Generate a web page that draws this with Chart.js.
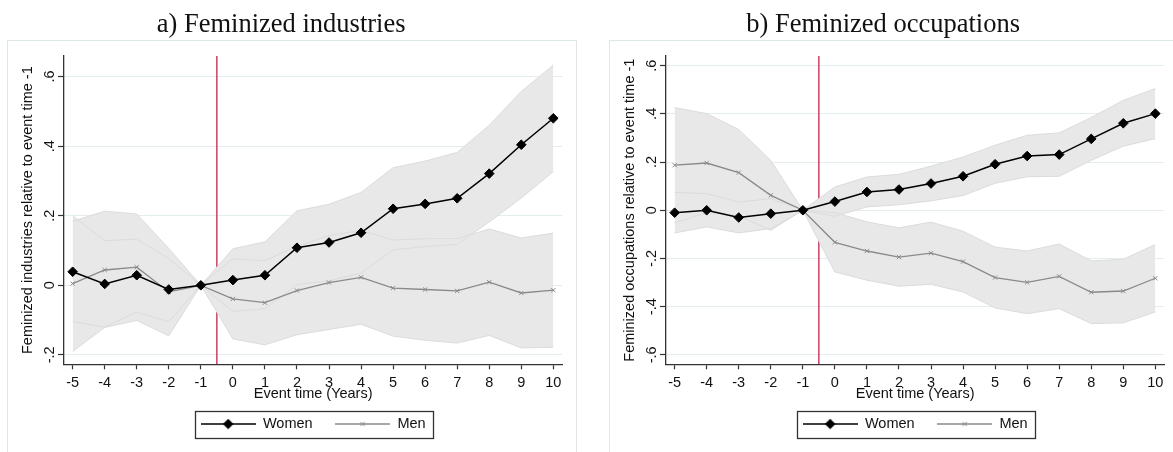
<!DOCTYPE html>
<html>
<head>
<meta charset="utf-8">
<script src="https://cdn.jsdelivr.net/npm/chart.js"></script>
<style>
  body { margin: 0; background: #fff; overflow: hidden; }
  canvas { position: absolute; top: 0; }
</style>
</head>
<body>
<canvas id="industries" width="584" height="452" style="left:0px"></canvas>
<canvas id="occupations" width="584" height="452" style="left:602px"></canvas>
<script>
// event time axis
var eventTime = [-5, -4, -3, -2, -1, 0, 1, 2, 3, 4, 5, 6, 7, 8, 9, 10];
var xTickLabels = ['-5', '-4', '-3', '-2', '-1', '0', '1', '2', '3', '4', '5', '6', '7', '8', '9', '10'];
var xRange = [-5.27, 10.28];
var eventLine = -0.5;
var legendNames = ['Women', 'Men'];

// a) feminized industries
var yTicksInd = [-0.2, 0, 0.2, 0.4, 0.6];
var yLabelsInd = ['-.2', '0', '.2', '.4', '.6'];
var yRangeInd = [-0.227, 0.659];
var womenInd   = [0.039, 0.004, 0.029, -0.012, 0, 0.015, 0.029, 0.108, 0.123, 0.151, 0.220, 0.234, 0.250, 0.321, 0.404, 0.480];
var womenIndHi = [0.200, 0.128, 0.133, 0.077, 0, 0.105, 0.125, 0.214, 0.233, 0.267, 0.338, 0.357, 0.382, 0.460, 0.557, 0.633];
var womenIndLo = [-0.104, -0.120, -0.077, -0.105, 0, -0.075, -0.067, 0.002, 0.013, 0.035, 0.102, 0.111, 0.118, 0.182, 0.251, 0.327];
var menInd     = [0.005, 0.044, 0.052, -0.019, 0, -0.039, -0.050, -0.015, 0.008, 0.023, -0.008, -0.012, -0.016, 0.009, -0.022, -0.014];
var menIndHi   = [0.184, 0.213, 0.205, 0.106, 0, 0.076, 0.071, 0.112, 0.143, 0.158, 0.130, 0.134, 0.134, 0.162, 0.136, 0.150];
var menIndLo   = [-0.190, -0.121, -0.101, -0.145, 0, -0.154, -0.171, -0.142, -0.127, -0.112, -0.146, -0.158, -0.166, -0.144, -0.180, -0.178];

// b) feminized occupations
var yTicksOcc = [-0.6, -0.4, -0.2, 0, 0.2, 0.4, 0.6];
var yLabelsOcc = ['-.6', '-.4', '-.2', '0', '.2', '.4', '.6'];
var yRangeOcc = [-0.639, 0.64];
var womenOcc   = [-0.010, 0.000, -0.030, -0.014, 0, 0.036, 0.076, 0.086, 0.111, 0.141, 0.191, 0.225, 0.231, 0.296, 0.361, 0.401];
var womenOccHi = [0.074, 0.069, 0.034, 0.048, 0, 0.097, 0.138, 0.149, 0.183, 0.221, 0.270, 0.311, 0.321, 0.385, 0.456, 0.505];
var womenOccLo = [-0.094, -0.069, -0.094, -0.076, 0, -0.025, 0.014, 0.023, 0.039, 0.061, 0.112, 0.139, 0.141, 0.207, 0.266, 0.297];
var menOcc     = [0.187, 0.196, 0.156, 0.062, 0, -0.133, -0.169, -0.194, -0.178, -0.213, -0.279, -0.299, -0.274, -0.340, -0.335, -0.282];
var menOccHi   = [0.426, 0.401, 0.335, 0.207, 0, -0.010, -0.048, -0.073, -0.049, -0.087, -0.153, -0.169, -0.140, -0.210, -0.203, -0.142];
var menOccLo   = [-0.052, -0.009, -0.023, -0.083, 0, -0.256, -0.290, -0.315, -0.307, -0.339, -0.405, -0.429, -0.408, -0.470, -0.467, -0.422];

var SANS = 'Liberation Sans';
var TEXT = '#111';
var AXIS = '#333';
var BAND = '#e8e8e8';
var BAND_EDGE = '#dcdcdc';
var WOMEN = '#000';
var MEN = '#8a8a8a';

function pts(values) {
    return values.map(function (v, i) { return {x: eventTime[i], y: v}; });
}

// little line + marker sample used as the legend symbol
function legendIcon(color, lineWidth, style, radius) {
    var c = document.createElement('canvas');
    c.width = 55;
    c.height = 12;
    var g = c.getContext('2d');
    g.strokeStyle = color;
    g.fillStyle = color;
    g.lineWidth = lineWidth;
    g.beginPath();
    g.moveTo(0, 6);
    g.lineTo(55, 6);
    g.stroke();
    g.lineWidth = 1;
    Chart.helpers.drawPoint(g, {pointStyle: style, radius: radius, rotation: 0, borderWidth: 1}, 27.5, 6);
    return c;
}
var legendIcons = [legendIcon(WOMEN, 1.5, 'rectRot', 4.8), legendIcon(MEN, 1.3, 'crossRot', 3)];

var framePlugin = {
    id: 'frame',
    beforeDraw: function (chart) {
        var ctx = chart.ctx;
        ctx.save();
        ctx.fillStyle = '#fff';
        ctx.fillRect(0, 0, chart.width, chart.height);
        ctx.strokeStyle = '#dde7ea';
        ctx.lineWidth = 1;
        ctx.strokeRect(7.5, 40.5, chart.width - 15, chart.height);
        ctx.restore();
    }
};

var legendBoxPlugin = {
    id: 'legendBox',
    afterDraw: function (chart) {
        var boxes = chart.legend.legendHitBoxes;
        if (!boxes || !boxes.length) return;
        var first = boxes[0], last = boxes[boxes.length - 1];
        var cy = first.top + first.height / 2;
        var ctx = chart.ctx;
        ctx.save();
        ctx.strokeStyle = AXIS;
        ctx.lineWidth = 1.3;
        ctx.strokeRect(Math.round(first.left - 6) + 0.5, Math.round(cy - 13.5) + 0.5,
            Math.round(last.left + last.width - first.left + 13), 27);
        ctx.restore();
    }
};

function makePanel(id, title, yTitle, yTicks, yLabels, yRange, s) {
    var ctx = document.getElementById(id);
    return new Chart(ctx, {
        type: 'line',
        plugins: [framePlugin, legendBoxPlugin],
        data: {
            datasets: [
                {
                    label: legendNames[0],
                    data: pts(s.women),
                    borderColor: WOMEN,
                    backgroundColor: WOMEN,
                    borderWidth: 1.5,
                    pointStyle: 'rectRot',
                    pointRadius: 4.8,
                    pointBorderWidth: 1,
                    pointBackgroundColor: WOMEN,
                    pointBorderColor: WOMEN,
                    fill: false,
                },
                {
                    label: legendNames[1],
                    data: pts(s.men),
                    borderColor: MEN,
                    backgroundColor: MEN,
                    borderWidth: 1.3,
                    pointStyle: 'crossRot',
                    pointRadius: 3,
                    pointBorderWidth: 1,
                    pointBorderColor: MEN,
                    fill: false,
                },
                // faint band edges drawn above both band fills
                {data: pts(s.womenHi), borderColor: BAND_EDGE, borderWidth: 1, pointRadius: 0, fill: false},
                {data: pts(s.womenLo), borderColor: BAND_EDGE, borderWidth: 1, pointRadius: 0, fill: false},
                {data: pts(s.menHi), borderColor: BAND_EDGE, borderWidth: 1, pointRadius: 0, fill: false},
                {data: pts(s.menLo), borderColor: BAND_EDGE, borderWidth: 1, pointRadius: 0, fill: false},
                // confidence bands
                {data: pts(s.womenHi), borderColor: 'rgba(0,0,0,0)', backgroundColor: BAND, pointRadius: 0, fill: '+1'},
                {data: pts(s.womenLo), borderColor: 'rgba(0,0,0,0)', pointRadius: 0, fill: false},
                {data: pts(s.menHi), borderColor: 'rgba(0,0,0,0)', backgroundColor: BAND, pointRadius: 0, fill: '+1'},
                {data: pts(s.menLo), borderColor: 'rgba(0,0,0,0)', pointRadius: 0, fill: false},
                // event line
                {
                    data: [{x: eventLine, y: yRange[0]}, {x: eventLine, y: yRange[1]}],
                    borderColor: '#d81b4a',
                    borderWidth: 1.3,
                    pointRadius: 0,
                    fill: false,
                },
            ]
        },
        options: {
            responsive: false,
            animation: false,
            layout: {
                padding: {left: 0, right: 21.7, top: 0, bottom: 10.75}
            },
            plugins: {
                tooltip: {enabled: false},
                title: {
                    display: true,
                    text: title,
                    color: TEXT,
                    font: {family: 'Liberation Serif', size: 26.5, weight: 'normal', lineHeight: 1.2},
                    padding: {top: 9.5, bottom: 14.7},
                },
                legend: {
                    position: 'bottom',
                    fullSize: false,
                    labels: {
                        usePointStyle: true,
                        pointStyleWidth: 55,
                        padding: 22.6,
                        color: TEXT,
                        font: {family: SANS, size: 14.5},
                        generateLabels: function () {
                            return legendNames.map(function (name, i) {
                                return {
                                    text: name,
                                    pointStyle: legendIcons[i],
                                    fontColor: TEXT,
                                    lineWidth: 0,
                                    hidden: false,
                                    datasetIndex: i,
                                };
                            });
                        }
                    }
                }
            },
            scales: {
                x: {
                    type: 'linear',
                    min: xRange[0],
                    max: xRange[1],
                    afterBuildTicks: function (scale) {
                        scale.ticks = eventTime.map(function (v) { return {value: v}; });
                    },
                    afterFit: function (scale) { scale.height = 29.85; },
                    ticks: {
                        autoSkip: false,
                        maxRotation: 0,
                        padding: 4.5,
                        color: TEXT,
                        font: {family: SANS, size: 14.5},
                        callback: function (value, index) { return xTickLabels[index]; }
                    },
                    grid: {
                        display: true,
                        drawOnChartArea: false,
                        drawTicks: true,
                        tickLength: 5,
                        tickColor: AXIS,
                        tickWidth: 1.2,
                    },
                    border: {display: true, color: AXIS, width: 1.3},
                    title: {
                        display: true,
                        text: 'Event time (Years)',
                        color: TEXT,
                        font: {family: SANS, size: 14.5, lineHeight: 1},
                        padding: {top: 0, bottom: -6.6},
                    }
                },
                y: {
                    min: yRange[0],
                    max: yRange[1],
                    afterBuildTicks: function (scale) {
                        scale.ticks = yTicks.map(function (v) { return {value: v}; });
                    },
                    afterFit: function (scale) { scale.width = 64; },
                    ticks: {
                        autoSkip: false,
                        minRotation: 90,
                        maxRotation: 90,
                        crossAlign: 'center',
                        padding: 0,
                        color: TEXT,
                        font: {family: SANS, size: 14.5},
                        callback: function (value, index) { return yLabels[index]; }
                    },
                    grid: {
                        color: '#e3ecee',
                        lineWidth: 1,
                        tickColor: AXIS,
                        tickLength: 6,
                        tickWidth: 1.2,
                    },
                    border: {display: true, color: AXIS, width: 1.3},
                    title: {
                        display: true,
                        text: yTitle,
                        color: TEXT,
                        font: {family: SANS, size: 14.5, lineHeight: 1.2},
                        padding: {top: 19.3, bottom: 0},
                    }
                }
            }
        }
    });
}

makePanel('industries', 'a) Feminized industries', 'Feminized industries relative to event time -1',
    yTicksInd, yLabelsInd, yRangeInd,
    {women: womenInd, womenHi: womenIndHi, womenLo: womenIndLo, men: menInd, menHi: menIndHi, menLo: menIndLo});

makePanel('occupations', 'b) Feminized occupations', 'Feminized occupations relative to event time -1',
    yTicksOcc, yLabelsOcc, yRangeOcc,
    {women: womenOcc, womenHi: womenOccHi, womenLo: womenOccLo, men: menOcc, menHi: menOccHi, menLo: menOccLo});
</script>
</body>
</html>
